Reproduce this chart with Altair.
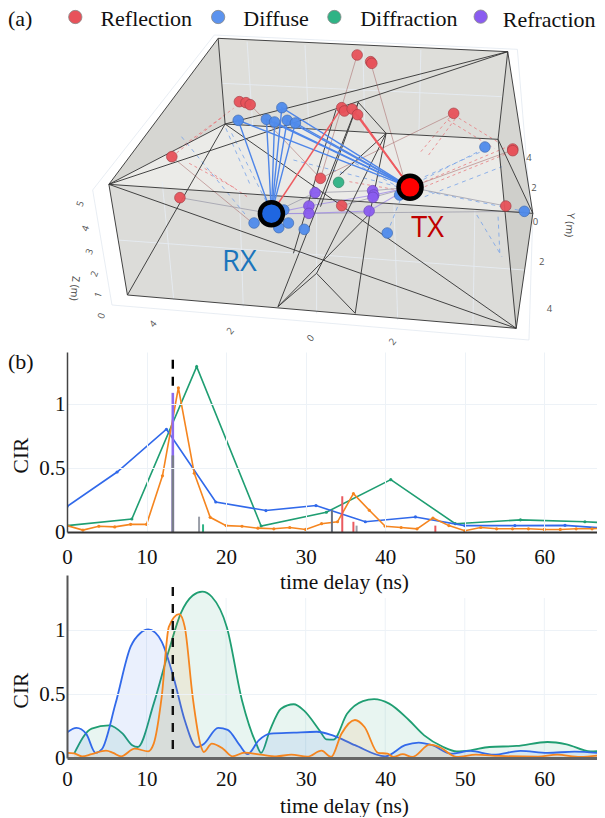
import altair as alt
import pandas as pd

SERIF = "Liberation Serif"
SANS = "Open Sans"
KX, KY = 2.59, 3.0   # picture units used for the 3D panel values

# ---------- panel (a): scene ----------
faces = [
    ("#dededa", [(565,115),(1315,155),(1290,418),(583,372)]),
    ("#d6d6d2", [(565,115),(583,372),(282,553)]),
    ("#dcdcd9", [(583,372),(330,885),(282,553)]),
    ("#ebebe8", [(583,372),(1290,418),(1380,640),(282,553)]),
    ("#d6d6d2", [(1315,155),(1380,640),(1290,418)]),
    ("#dcdcd9", [(282,553),(1380,640),(1337,985),(330,885)]),
    ("#cfcfcb", [(1290,418),(1380,640),(1337,985)]),
]
wires = [
    [(565,115),(1315,155),(1380,640),(1337,985),(330,885),(282,553),(565,115)],
    [(282,553),(1380,640)], [(282,553),(1315,155)], [(583,372),(1315,155)],
    [(565,115),(583,372),(1000,400),(1290,418),(1315,155)], [(282,553),(583,372)],
    [(330,885),(583,372)], [(282,553),(1337,985)], [(583,372),(1337,985)],
    [(1290,418),(1337,985)], [(1290,418),(1380,640)],
    [(928,307),(1000,400),(820,820),(920,940),(958,640),(1000,400)],
    [(928,307),(720,920),(820,820)], [(958,640),(720,920)], [(870,330),(760,760)],
    [(880,525),(1000,400)], [(928,307),(830,620)],
]
faint_grid = [
    [(640,125),(655,385)], [(790,135),(800,390)], [(940,145),(945,400)], [(1090,150),(1085,405)],
    [(575,250),(1300,290)], [(420,545),(450,900)], [(620,570),(630,920)], [(820,585),(820,940)],
    [(1020,600),(1030,960)], [(1230,630),(1225,975)], [(305,720),(1358,810)],
    [(240,570),(555,105),(1340,148),(1375,640)], [(240,570),(290,915),(1370,1020),(1380,640)],
]
thin_red = [
    [(925,165),(830,535)], [(960,188),(1045,530)], [(648,314),(830,535)], [(1175,340),(830,535)],
    [(1328,450),(1062,562)], [(445,470),(655,670)],
]
thin_gray = [
    [(466,593),(703,641)], [(703,641),(816,578),(965,572),(1062,562)],
    [(1310,618),(1062,562)], [(703,641),(1358,634)], [(885,617),(1062,562)],
]
thin_purple = [[(703,641),(800,618),(968,585),(1062,562)], [(703,641),(800,640),(956,633),(1062,562)]]
red_dots = [
    [(445,470),(583,345)], [(465,445),(605,325)], [(490,490),(610,565)], [(530,505),(640,590)],
    [(1090,455),(1170,345)], [(1110,465),(1180,355)], [(1175,345),(1295,430)], [(1160,360),(1280,445)],
    [(1100,560),(1325,455)], [(1100,545),(1315,440)], [(905,545),(1030,570)],
]
blue_dots = [
    [(470,410),(640,650)], [(600,400),(705,640)], [(585,385),(650,560)], [(1060,560),(1255,445)],
    [(1100,530),(1256,450)], [(1110,575),(1358,634)], [(1235,645),(1300,770)], [(1290,650),(1295,770)],
    [(1003,699),(1040,590)], [(920,490),(1030,560)], [(760,480),(1030,560)], [(1100,590),(1300,500)],
]
blue_solid = [[(703,641),p,(1062,562)] for p in [(617,361),(690,358),(711,366),(744,361),(765,369),(730,323)]]
red_solid = [[(703,641),(885,323)], [(1062,562),(912,327)], [(1062,562),(926,344)]]

reflection_x = [925,960,963,620,637,648,885,892,912,926,1175,1328,1328,445,830,466,885,1310]
reflection_y = [165,185,190,305,308,314,323,333,327,344,340,447,452,470,535,593,617,618]
diffuse_x = [730,617,690,711,744,765,1256,1358,1003,788,658,722,747,1035,735]
diffuse_y = [323,361,358,366,361,369,441,634,699,688,669,683,669,585,630]
diffraction_x = [877]
diffraction_y = [547]
refraction_x = [816,965,968,966,800,800,956]
refraction_y = [578,572,585,592,618,640,633]
rx_xy = (703,641)
tx_xy = (1062,562)

legend_text = ["Reflection","Diffuse","Diffraction","Refraction"]
legend_tx = [260,630,933,1302]
legend_ty = [57,57,57,59]
legend_cx = [195,565,866,1245]
legend_cy = [51,51,51,50]
legend_col = ["#e8525a","#5c93ee","#2fb385","#8a5cf0"]
tick_text = ["5","4","3","2","1","0","4","2","0","2","0","2","4","4","2"]
tick_x = [208,222,232,245,255,263,397,597,805,1017,1387,1403,1423,1370,1383]
tick_y = [612,685,755,822,885,948,972,993,1015,1025,665,787,927,475,565]
tick_a = [290,290,290,290,290,290,310,310,310,310,0,0,0,0,0]

WIDTH = 530
XA = alt.Scale(domain=[67*KX, 597*KX], nice=False, zero=False)
YA = alt.Scale(domain=[352*KY, 8*KY], nice=False, zero=False)
ax = lambda f="x": alt.X(f+":Q", scale=XA, axis=None)
ay = lambda f="y": alt.Y(f+":Q", scale=YA, axis=None)

def poly_slices(pts):
    xs = sorted({p[0] for p in pts})
    rows = []
    n = len(pts)
    for x in xs:
        ys = []
        for i in range(n):
            (x0,y0),(x1,y1) = pts[i], pts[(i+1)%n]
            if min(x0,x1) <= x <= max(x0,x1):
                if x0 == x1:
                    ys += [y0,y1]
                else:
                    ys.append(y0+(y1-y0)*(x-x0)/(x1-x0))
        rows.append({"x":x,"y":min(ys),"y2":max(ys)})
    return pd.DataFrame(rows)

def seg_layer(segs, color, width, opacity=1.0, dash=None):
    rows = []
    for i,s in enumerate(segs):
        for j,(x,y) in enumerate(s):
            rows.append({"id":i,"o":j,"x":x,"y":y})
    kw = dict(color=color, strokeWidth=width, opacity=opacity, clip=True)
    if dash: kw["strokeDash"] = dash
    return alt.Chart(pd.DataFrame(rows)).mark_line(**kw).encode(
        x=ax(), y=ay(), detail="id:N", order="o:Q")

def pts(xs, ys, fill, stroke, size=113, sw=0.7, op=0.95):
    return alt.Chart(pd.DataFrame({"x":xs,"y":ys})).mark_circle(
        color=fill, stroke=stroke, strokeWidth=sw, size=size, opacity=op, clip=True
    ).encode(x=ax(), y=ay())

def txt(xs, ys, labels, font, size, color, align="left", angle=None, clip=True):
    d = {"x":xs,"y":ys,"t":labels}
    kw = dict(font=font, fontSize=size, color=color, align=align, baseline="middle", clip=clip)
    if angle is not None: kw["angle"]=angle
    return alt.Chart(pd.DataFrame(d)).mark_text(**kw).encode(x=ax(), y=ay(), text="t:N")

legend_dots = [pts([cx],[cy], col, "#888888", size=177, sw=0.8, op=1)
               for cx,cy,col in zip(legend_cx, legend_cy, legend_col)]

layers_a = []
for col, poly in faces:
    layers_a.append(alt.Chart(poly_slices(poly)).mark_area(color=col, clip=True, opacity=1).encode(
        x=ax(), y=ay(), y2="y2:Q"))
layers_a += [
    seg_layer(faint_grid, "#e6ebf2", 1, 0.9),
    seg_layer(red_dots, "#e8767a", 1, 0.75, [3,3]),
    seg_layer(blue_dots, "#6f9ee8", 1, 0.75, [4,4]),
    seg_layer(thin_red, "#a86a6a", 0.8, 0.7),
    seg_layer(thin_gray, "#9a9aa8", 1, 0.75),
    seg_layer(thin_purple, "#a28fe6", 1.2, 0.8),
    seg_layer(wires, "#3a3a3a", 1, 0.95),
    seg_layer(blue_solid, "#4f86e8", 1.4),
    seg_layer(red_solid, "#ee5b60", 1.6),
    pts(reflection_x, reflection_y, "#e8525a", "#a63c44"),
    pts(diffuse_x, diffuse_y, "#4f8bec", "#3b68b0"),
    pts(diffraction_x, diffraction_y, "#2fb385", "#23805f"),
    pts(refraction_x, refraction_y, "#8a5cf0", "#6a45b8"),
    pts([rx_xy[0]],[rx_xy[1]], "#1f66e0", "#000000", size=531, sw=4.5, op=1),
    pts([tx_xy[0]],[tx_xy[1]], "#ff0000", "#000000", size=531, sw=4.5, op=1),
    *legend_dots,
    txt(legend_tx, legend_ty, legend_text, SERIF, 22, "#111111", clip=False),
    txt([20.8], [57], ["(a)"], SERIF, 22, "#111111", clip=False),
    txt([20.8], [1086], ["(b)"], SERIF, 22, "#111111", clip=False),
    txt([575],[785],["RX"], SANS, 29, "#1b75bc"),
    txt([1065],[685],["TX"], SANS, 29, "#c00000"),
    alt.Chart(pd.DataFrame({"x":tick_x,"y":tick_y,"t":tick_text,"a":tick_a})).mark_text(
        font=SANS, fontSize=9.5, color="#555555", align="center", baseline="middle", clip=True).encode(
        x=ax(), y=ay(), text="t:N", angle=alt.Angle("a:Q", scale=None)),
    txt([193],[865],["Z (m)"], SANS, 10.5, "#444444", "center", 95),
    txt([1475],[675],["Y (m)"], SANS, 10.5, "#444444", "center", 95),
]
panel_a = alt.layer(*layers_a).properties(width=WIDTH, height=344)

# ---------- panel (b) ----------
blue_t = [0,6.3,12.5,18.7,25,31.3,37.5,43.8,50,56.3,62.6,67.6]
blue_v = [0.2,0.47,0.805,0.235,0.168,0.207,0.08,0.118,0.05,0.05,0.052,0.03]
green_t = [0,8.15,16.3,24.4,32.6,40.7,48.8,57,65.1,67.6]
green_v = [0.05,0.102,1.295,0.047,0.155,0.41,0.065,0.095,0.08,0.073]
orange_t = [0,2,4,6,8,10,12,14,16,18,20,22,24,26,28,30,32,34,36,38,40,42,44,46,48,50,52,54,56,58,60,62,64,66,67.6]
orange_v = [0.05,0.015,0.045,0.04,0.06,0.06,0.44,1.13,0.46,0.115,0.05,0.045,0.03,0.025,0.035,0.02,0.065,0.08,0.3,0.17,0.045,0.035,0.025,0.11,0.05,0.01,0.035,0.025,0.025,0.025,0.02,0.02,0.025,0.025,0.03]
bar_t = [13.3,13.3,16.6,17.1,33.3,34.6,36.0,36.4,46.3]
bar_v = [1.09,0.6,0.12,0.06,0.17,0.28,0.08,0.05,0.05]
bar_c = ["#8b6cf0","#7a7f8a","#9a9ea8","#2fb385","#6b7280","#ea5a5f","#ea5a5f","#9a9ea8","#ea5a5f"]
bar_w = [2.6,2.6,2,2,2,2,2,2,2]
BLUE, GREEN, ORANGE = "#3169ea", "#1f9e72", "#f5851f"
LOS = 13.3
TMAX = 66.62
GRID_TOP = 1.25
x_ticks = [0,10,20,30,40,50,60]
y_ticks = [0,0.5,1]

def axes(ymax, ydomain_color, ydomain_w, xdomain_color, xdomain_w, lab_pad, tit_y, cir_y, xgrid=True):
    X = alt.X("x:Q", scale=alt.Scale(domain=[0,TMAX], nice=False, zero=False), axis=alt.Axis(
        title="time delay (ns)", values=x_ticks, format="d", grid=xgrid, gridColor="#edf2f7", ticks=False,
        labelFont=SERIF, labelFontSize=21, labelColor="#111111", labelPadding=lab_pad, labelFlush=False,
        domainColor=xdomain_color, domainWidth=xdomain_w, titleFont=SERIF, titleFontSize=21.5,
        titleFontWeight="normal", titleColor="#111111", titleX=277, titleY=tit_y, zindex=1))
    Y = alt.Y("y:Q", scale=alt.Scale(domain=[0,ymax], nice=False, zero=False), axis=alt.Axis(
        title="CIR", values=y_ticks, format="~g", grid=True, gridColor="#edf2f7", ticks=False,
        labelFont=SERIF, labelFontSize=21, labelColor="#111111", labelPadding=2,
        domainColor=ydomain_color, domainWidth=ydomain_w, titleFont=SERIF, titleFontSize=21.5,
        titleFontWeight="normal", titleColor="#111111", titleX=-35, titleY=cir_y, zindex=1))
    return X, Y

Xb, Yb = axes(1.41, "#444444", 1.5, "#333333", 2, 14, 39, 103)
def line_b(t, v, c):
    return alt.Chart(pd.DataFrame({"x":t,"y":v})).mark_line(
        color=c, strokeWidth=1.6, clip=True, point=alt.OverlayMarkDef(color=c, size=10, filled=True)
    ).encode(x=Xb, y=Yb)
bars = [alt.Chart(pd.DataFrame({"x":[t],"y":[v],"y0":[0]})).mark_rule(color=c, strokeWidth=w).encode(
    x=Xb, y=Yb, y2="y0:Q") for t,v,c,w in zip(bar_t,bar_v,bar_c,bar_w)]
dash_b = alt.Chart(pd.DataFrame({"x":[LOS],"y":[1.35],"y0":[1.1]})).mark_rule(
    color="#000000", strokeWidth=2.4, strokeDash=[9,8]).encode(x=Xb, y=Yb, y2="y0:Q")
panel_b = alt.layer(line_b(green_t,green_v,GREEN), line_b(blue_t,blue_v,BLUE),
                    line_b(orange_t,orange_v,ORANGE), *bars, dash_b).properties(width=WIDTH, height=180)

# ---------- panel (c) ----------
blue_ct = [0,1.2,2.4,3.6,4.4,6.1,8,9.2,10.2,11.1,11.9,13.4,14.8,16.3,17.2,19,20.2,21.7,22.7,24.1,25.6,28.5,31.4,33.4,36.2,40,42.5,44.2,45.9,48.3,50.7,53.6,57,60.4,63.8,67.6]
blue_cv = [0.2,0.235,0.19,0.04,0.07,0.425,0.87,0.975,1.005,0.98,0.91,0.63,0.295,0.085,0.11,0.235,0.22,0.1,0.03,0.138,0.19,0.198,0.205,0.177,0.1,0.013,0.1,0.12,0.1,0.034,0.055,0.026,0.055,0.04,0.05,0.034]
green_ct = [0.9,3.1,5.3,7,8.2,8.9,10.9,12.8,14.3,15.8,17,18.2,20.1,22,23.8,24.4,25.5,26.9,28.5,29.8,31.8,32.6,33.5,35.2,37.2,38.6,40.5,43,44.9,47.3,49,50.7,53.1,56.5,60.4,62.8,65.8,67.6]
green_cv = [0.034,0.23,0.255,0.19,0.1,0.086,0.425,0.84,1.13,1.27,1.3,1.26,1.02,0.45,0.11,0.04,0.215,0.385,0.42,0.37,0.21,0.146,0.143,0.345,0.445,0.46,0.425,0.295,0.177,0.086,0.052,0.06,0.086,0.094,0.125,0.107,0.052,0.06]
orange_ct = [0,0.9,1.9,3.1,4.9,5.8,6.8,8.5,10.2,10.9,11.9,12.8,14.1,14.8,15.8,16.8,17.2,18.2,19.6,20.8,22.3,24.4,26.3,28.2,30.2,32,33.2,34.5,36.2,37.4,39.1,40.3,41,42.2,43.4,45.6,46.8,49,51.4,54.3,59.2,61.6,64.5,67.6]
orange_cv = [0.04,0.036,0.013,0.03,0.057,0.04,0.013,0.073,0.052,0.112,0.477,1.025,1.125,1.025,0.477,0.1,0.047,0.112,0.073,0.013,0.042,0.026,0.013,0.026,0.01,0.057,0.008,0.19,0.297,0.242,0.04,0.034,0.008,0.03,0.008,0.104,0.086,0.008,0.026,0.016,0.01,0.026,0.008,0.026]

Xc, Yc = axes(1.43, "#555555", 2, "#666666", 3, 10, 37, 115, xgrid=False)
grid_c = alt.Chart(pd.DataFrame({"x":x_ticks,"y":[GRID_TOP]*len(x_ticks),"y0":[0]*len(x_ticks)})).mark_rule(
    color="#edf2f7", strokeWidth=1).encode(x=Xc, y=Yc, y2="y0:Q")
def curve(t, v, c):
    d = pd.DataFrame({"x":t,"y":v,"y0":[0]*len(t)})
    fill = alt.Chart(d).mark_area(color=c, opacity=0.1, interpolate="monotone", clip=True).encode(x=Xc, y=Yc, y2="y0:Q")
    line = alt.Chart(d).mark_line(color=c, strokeWidth=1.8, interpolate="monotone", clip=True).encode(x=Xc, y=Yc)
    return [fill, line]
dash_c = alt.Chart(pd.DataFrame({"x":[LOS],"y":[1.336],"y0":[0]})).mark_rule(
    color="#111111", strokeWidth=2.4, strokeDash=[9,8]).encode(x=Xc, y=Yc, y2="y0:Q")
panel_c = alt.layer(grid_c, *curve(green_ct,green_cv,GREEN), *curve(blue_ct,blue_cv,BLUE),
                    *curve(orange_ct,orange_cv,ORANGE), dash_c).properties(width=WIDTH, height=183)

gap = alt.Chart(pd.DataFrame({"x":[0]})).mark_text(text="", opacity=0).encode(x=alt.value(0), y=alt.value(0)).properties(width=WIDTH, height=43)

chart = alt.concat(panel_a, panel_b, gap, panel_c, columns=1, spacing=0, bounds="flush").properties(
    padding=0).configure_view(stroke=None)

chart.save("out.html", embed_options={"renderer": "svg", "actions": False})
